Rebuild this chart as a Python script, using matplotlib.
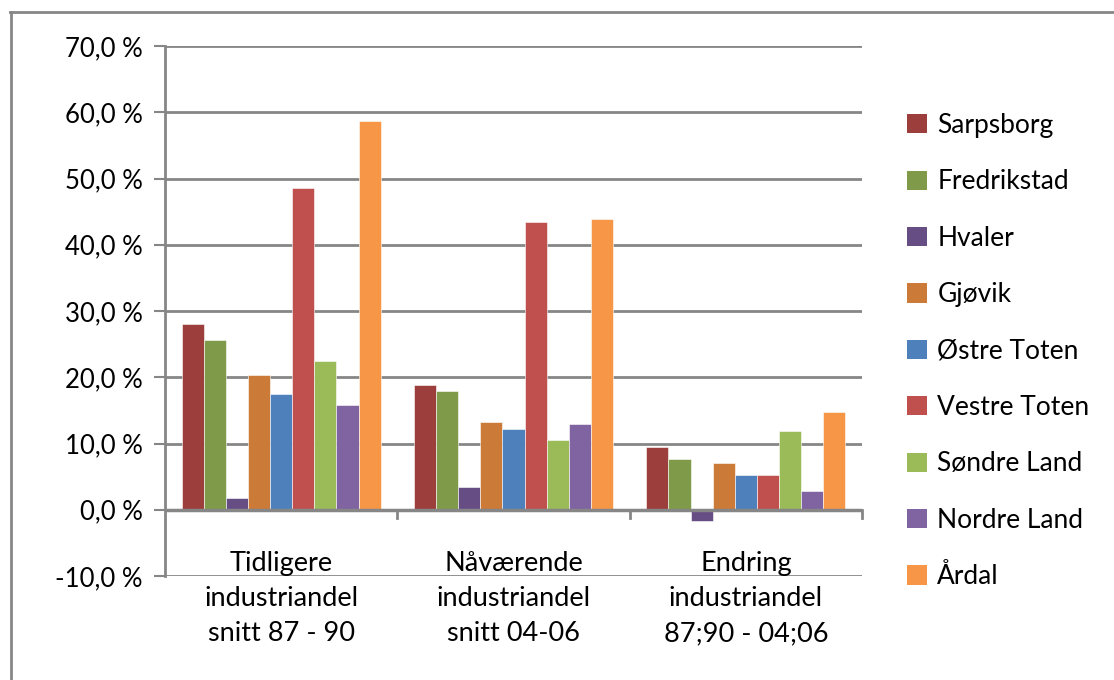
import numpy as np
import matplotlib.pyplot as plt
from matplotlib.patches import Patch
from matplotlib.lines import Line2D
from matplotlib.ticker import FuncFormatter, MultipleLocator
import matplotlib.transforms as mtransforms

plt.rcParams['font.family'] = ['Lato', 'DejaVu Sans']

# Kategorier og serier (andel i prosent)
kategorier = ["Tidligere\nindustriandel\nsnitt 87 - 90",
              "Nåværende\nindustriandel\nsnitt 04-06",
              "Endring\nindustriandel\n87;90 - 04;06"]
kommuner = ["Sarpsborg", "Fredrikstad", "Hvaler", "Gjøvik", "Østre Toten",
            "Vestre Toten", "Søndre Land", "Nordre Land", "Årdal"]
tidligere = [28.0, 25.6, 1.7, 20.3, 17.5, 48.5, 22.4, 15.8, 58.7]
naavaerende = [18.9, 17.9, 3.5, 13.3, 12.2, 43.5, 10.5, 12.9, 43.9]
endring = [9.4, 7.7, -1.7, 7.0, 5.3, 5.3, 11.9, 2.8, 14.7]
farger = ["#9c3e3c", "#7f9a48", "#664e85", "#cc7a38", "#4e80bc",
          "#c0504e", "#9bbb59", "#8064a1", "#f79646"]

verdier = np.array([tidligere, naavaerende, endring])  # (kategori, kommune)

fig = plt.figure(figsize=(11.14, 6.8), dpi=100)
ax = fig.add_axes([165 / 1114, 1 - 576 / 680, 697 / 1114, 530 / 680])

n = len(kommuner)
bredde = 1 / (n + 1.5)
x = np.arange(len(kategorier))
for i, (navn, farge) in enumerate(zip(kommuner, farger)):
    ax.bar(x - n * bredde / 2 + (i + 0.5) * bredde, verdier[:, i], width=bredde,
           color=farge, edgecolor='white', linewidth=0.4, zorder=3)

ax.set_xlim(-0.5, len(kategorier) - 0.5)
ax.set_ylim(-10, 70)
ax.yaxis.set_major_locator(MultipleLocator(10))
ax.yaxis.set_major_formatter(FuncFormatter(lambda v, p: f"{v:.1f} %".replace('.', ',')))
ax.grid(axis='y', color='#868686', linewidth=2, zorder=0)
ax.tick_params(axis='y', labelsize=18.5, length=8, width=1.5, color='#868686', pad=8)
ax.set_xticks([])
for s in ['top', 'right', 'bottom']:
    ax.spines[s].set_visible(False)
ax.spines['left'].set_color('#868686')
ax.spines['left'].set_linewidth(2)

# x-akse ved 0 med streker ved kategorigrenser
ax.axhline(0, color='#868686', linewidth=2.5, zorder=4)
for g in np.arange(0.5, len(kategorier), 1.0):
    ax.plot([g, g], [0, -1.2], color='#868686', linewidth=2, zorder=4, clip_on=False)

trans = mtransforms.blended_transform_factory(ax.transData, fig.transFigure)
for xi, tekst in zip(x, kategorier):
    ax.text(xi, 1 - 551 / 680, tekst, transform=trans, ha='center', va='top',
            fontsize=19.5, linespacing=1.5)

handles = [Patch(facecolor=f, edgecolor='none') for f in farger]
fig.legend(handles, kommuner, loc='upper left', bbox_to_anchor=(907 / 1114, 1 - 113 / 680),
           frameon=False, fontsize=19, handlelength=0.75, handleheight=0.75,
           handletextpad=0.4, labelspacing=1.19, borderaxespad=0, borderpad=0)

# ytre ramme
fig.add_artist(Line2D([10 / 1114, 1], [1 - 12 / 680, 1 - 12 / 680], color='#868686',
                      linewidth=2, transform=fig.transFigure))
fig.add_artist(Line2D([11 / 1114, 11 / 1114], [0, 1 - 12 / 680], color='#868686',
                      linewidth=2, transform=fig.transFigure))

fig.savefig("out.png", dpi=100)
